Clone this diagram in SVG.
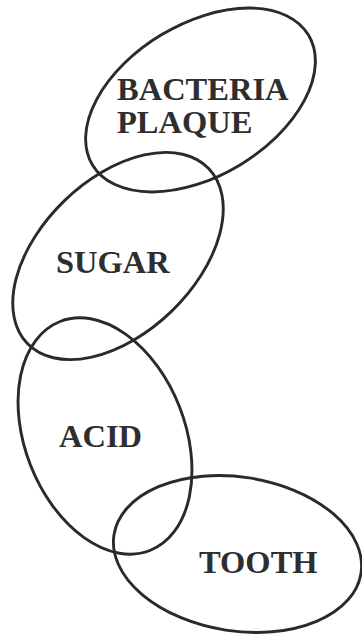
<svg xmlns="http://www.w3.org/2000/svg" width="362" height="635" viewBox="0 0 362 635">
  <style>
    .ring { fill: none; stroke: #2a2a2a; stroke-width: 2.9; }
    .label { font-family: "Liberation Serif", "Times New Roman", serif; font-weight: bold; font-size: 32.5px; fill: #2e2e2e; }
  </style>
  <rect width="362" height="635" fill="#ffffff"/>
  <g id="bacteria-plaque">
    <ellipse class="ring" cx="200.5" cy="100" rx="126" ry="76" transform="rotate(-31 200.5 100)"/>
    <text class="label" x="117" y="100">BACTERIA</text>
    <text class="label" x="117" y="133">PLAQUE</text>
  </g>
  <g id="sugar">
    <ellipse class="ring" cx="118" cy="256" rx="126" ry="77" transform="rotate(-44 118 256)"/>
    <text class="label" x="56" y="273">SUGAR</text>
  </g>
  <g id="acid">
    <ellipse class="ring" cx="105" cy="436" rx="80" ry="123" transform="rotate(-21.4 105 436)"/>
    <text class="label" x="59" y="447">ACID</text>
  </g>
  <g id="tooth">
    <ellipse class="ring" cx="237.5" cy="554" rx="125" ry="77" transform="rotate(8.8 237.5 554)"/>
    <text class="label" x="199" y="573">TOOTH</text>
  </g>
</svg>
